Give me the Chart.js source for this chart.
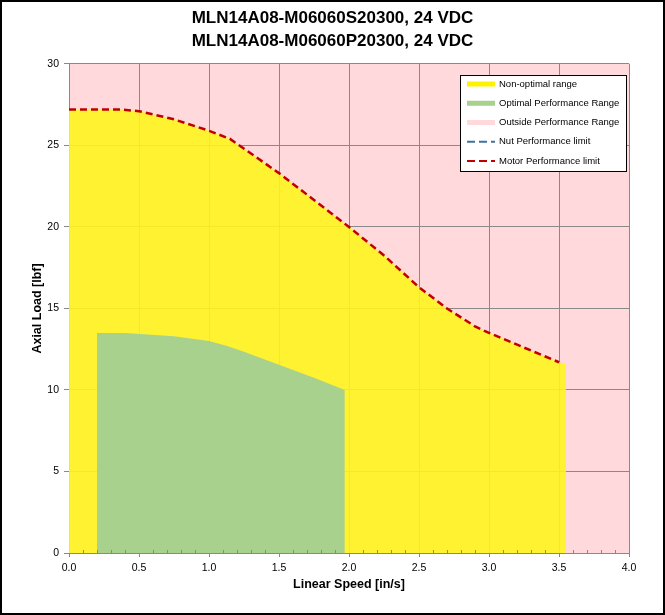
<!DOCTYPE html>
<html><head><meta charset="utf-8">
<script src="https://cdn.jsdelivr.net/npm/chart.js@4.4.1/dist/chart.umd.min.js"></script>
<style>html,body{margin:0;padding:0;background:#fff}#wrap{width:665px;height:615px;position:relative}</style>
</head><body><div id="wrap"><canvas id="c" width="665" height="615"></canvas></div>
<script>
const titleLines = ['MLN14A08-M06060S20300, 24 VDC', 'MLN14A08-M06060P20300, 24 VDC'];
const xAxisTitle = 'Linear Speed [in/s]';
const yAxisTitle = 'Axial Load [lbf]';
const seriesNames = ['Non-optimal range', 'Optimal Performance Range', 'Outside Performance Range', 'Nut Performance limit', 'Motor Performance limit'];
const xTicks = [0, 0.5, 1.0, 1.5, 2.0, 2.5, 3.0, 3.5, 4.0];
const yTicks = [0, 5, 10, 15, 20, 25, 30];

const nonOptSpeed = [0, 0.38, 0.5, 0.75, 1.0, 1.15, 1.5, 1.75, 2.0, 2.25, 2.5, 2.7, 2.9, 3.0, 3.25, 3.5, 3.55];
const nonOptLoad  = [27.2, 27.2, 27.1, 26.6, 25.9, 25.4, 23.3, 21.65, 20.0, 18.25, 16.3, 15.0, 13.9, 13.5, 12.6, 11.7, 11.6];
const optSpeed = [0.2, 0.4, 0.75, 1.0, 1.13, 1.25, 1.5, 1.75, 1.97];
const optLoad  = [13.5, 13.5, 13.3, 13.0, 12.7, 12.35, 11.55, 10.75, 10.0];
const outsideSpeed = [0, 4];
const outsideLoad  = [30, 30];
const nutSpeed = [];
const nutLoad  = [];
const motorSpeed = [0, 0.38, 0.5, 0.75, 1.0, 1.15, 1.5, 1.75, 2.0, 2.25, 2.5, 2.7, 2.9, 3.0, 3.25, 3.5];
const motorLoad  = [27.2, 27.2, 27.1, 26.6, 25.9, 25.4, 23.3, 21.65, 20.0, 18.25, 16.3, 15.0, 13.9, 13.5, 12.6, 11.7];

const pts = (xs, ys) => xs.map((x, i) => ({x: x, y: ys[i]}));
const GRID = '#898989';
const FONT = "'Liberation Sans', Arial, sans-serif";

const gridOverPink = {
  id: 'gridOverPink',
  afterDatasetDraw(chart, args) {
    if (args.index !== 2) return;
    for (const id of ['x', 'y']) {
      const s = chart.scales[id];
      if (typeof s.drawGrid === 'function') s.drawGrid(chart.chartArea);
      if (typeof s.drawBorder === 'function') s.drawBorder();
    }
  }
};
const minorTicks = {
  id: 'minorTicks',
  afterDatasetsDraw(chart) {
    const xs = chart.scales.x, ctx = chart.ctx, b = chart.chartArea.bottom;
    ctx.save(); ctx.strokeStyle = GRID; ctx.lineWidth = 1;
    for (let i = 1; i < 40; i++) {
      if (i % 5 === 0) continue;
      const px = Math.round(xs.getPixelForValue(i / 10)) + 0.5;
      ctx.beginPath(); ctx.moveTo(px, b); ctx.lineTo(px, b - 3); ctx.stroke();
    }
    ctx.restore();
  }
};
const boxLegend = {
  id: 'boxLegend',
  afterDraw(chart) {
    const ctx = chart.ctx;
    ctx.save();
    ctx.fillStyle = '#fff'; ctx.fillRect(460, 75, 166, 96);
    ctx.strokeStyle = '#000'; ctx.lineWidth = 1; ctx.strokeRect(460.5, 75.5, 166, 96);
    chart.data.datasets.forEach((ds, i) => {
      const y = 84 + i * 19.25;
      ctx.beginPath();
      ctx.strokeStyle = ds.legendColor;
      if (ds.fill) { ctx.lineWidth = 5; ctx.setLineDash([]); }
      else { ctx.lineWidth = 2; ctx.setLineDash([8, 4]); }
      ctx.moveTo(467, y); ctx.lineTo(495, y); ctx.stroke();
      ctx.setLineDash([]);
      ctx.fillStyle = '#000'; ctx.font = "9.5px " + FONT; ctx.textBaseline = 'middle'; ctx.textAlign = 'left';
      ctx.fillText(ds.label, 499, y);
    });
    ctx.restore();
  }
};
const frame = {
  id: 'frame',
  afterDraw(chart) {
    const ctx = chart.ctx; ctx.save();
    ctx.strokeStyle = '#000'; ctx.lineWidth = 2; ctx.strokeRect(1, 1, chart.width - 2, chart.height - 2);
    ctx.restore();
  }
};

new Chart(document.getElementById('c'), {
  type: 'line',
  data: {
    datasets: [
      {label: seriesNames[0], data: pts(nonOptSpeed, nonOptLoad), fill: 'origin', backgroundColor: 'rgba(255,244,30,0.9)', legendColor: '#FFF200', borderWidth: 0, pointRadius: 0, order: 2},
      {label: seriesNames[1], data: pts(optSpeed, optLoad), fill: 'origin', backgroundColor: '#A9D18E', legendColor: '#A9D18E', borderWidth: 0, pointRadius: 0, order: 1},
      {label: seriesNames[2], data: pts(outsideSpeed, outsideLoad), fill: 'origin', backgroundColor: '#FFD9DC', legendColor: '#FFD9DC', borderWidth: 0, pointRadius: 0, order: 3},
      {label: seriesNames[3], data: pts(nutSpeed, nutLoad), fill: false, borderColor: '#41719C', legendColor: '#41719C', borderWidth: 2.5, borderDash: [7, 4], pointRadius: 0, order: 0},
      {label: seriesNames[4], data: pts(motorSpeed, motorLoad), fill: false, borderColor: '#C00000', legendColor: '#C00000', borderWidth: 2.5, borderDash: [7, 4], pointRadius: 0, order: 0}
    ]
  },
  options: {
    responsive: false, animation: false, devicePixelRatio: 1,
    layout: {padding: {left: 0, right: 0, top: 0, bottom: 0}},
    elements: {line: {tension: 0}},
    plugins: {
      filler: {drawTime: 'beforeDatasetDraw'},
      legend: {display: false}, tooltip: {enabled: false},
      title: {display: true, text: titleLines, color: '#000', font: {family: FONT, size: 17, weight: 'bold', lineHeight: 1.35}, padding: {top: 7, bottom: 11}}
    },
    scales: {
      x: {
        type: 'linear', min: xTicks[0], max: xTicks[xTicks.length - 1],
        afterBuildTicks: s => { s.ticks = xTicks.map(v => ({value: v})); },
        afterFit: s => { s.height = 62; },
        ticks: {color: '#000', font: {family: FONT, size: 10.5}, padding: 5, callback: v => Number(v).toFixed(1), maxRotation: 0},
        grid: {color: GRID, tickLength: 4}, border: {color: GRID},
        title: {display: true, text: xAxisTitle, color: '#000', font: {family: FONT, size: 12.5, weight: 'bold', lineHeight: 1.2}, padding: {top: 0, bottom: 23}}
      },
      y: {
        type: 'linear', min: yTicks[0], max: yTicks[yTicks.length - 1],
        afterBuildTicks: s => { s.ticks = yTicks.map(v => ({value: v})); },
        afterFit: s => { s.width = 69; },
        ticks: {color: '#000', font: {family: FONT, size: 10.5}, padding: 5},
        grid: {color: GRID, tickLength: 5}, border: {color: GRID},
        title: {display: true, text: yAxisTitle, color: '#000', font: {family: FONT, size: 12.5, weight: 'bold', lineHeight: 1.2}, padding: {top: 30, bottom: 0}}
      },
      yRightSpace: {
        type: 'linear', position: 'right', min: 0, max: 1,
        afterFit: s => { s.width = 36; },
        ticks: {display: false}, grid: {display: false, drawTicks: false}, border: {display: false}
      }
    }
  },
  plugins: [gridOverPink, minorTicks, boxLegend, frame]
});
</script></body></html>
